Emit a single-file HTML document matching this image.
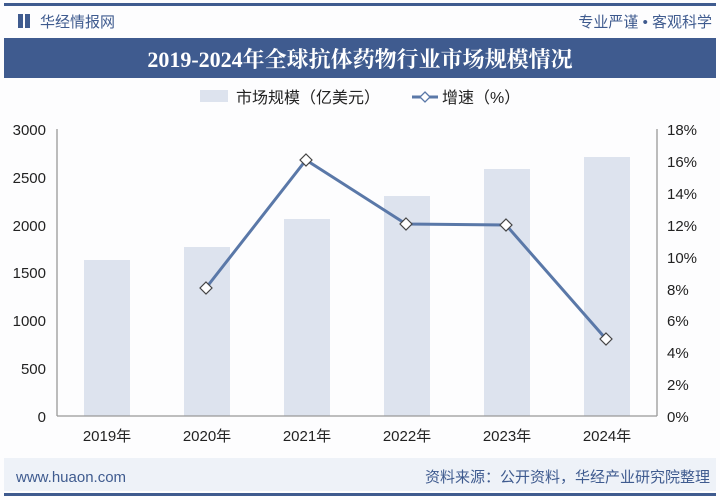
<!DOCTYPE html>
<html><head><meta charset="utf-8"><style>
body{margin:0;background:#fff;}
svg{display:block;font-family:"Liberation Sans","Noto Sans CJK SC",sans-serif;}
</style></head><body>
<svg width="720" height="500" viewBox="0 0 720 500">
<rect width="720" height="500" fill="#fdfdfe"/>
<rect x="4" y="3" width="712" height="3" fill="#3f5b8f"/>
<rect x="18" y="14" width="5" height="14" fill="#3f5b8f"/><rect x="25" y="14" width="5" height="14" fill="#3f5b8f"/>
<text x="40" y="27" font-size="15" fill="#3f5b8f">华经情报网</text>
<text x="712" y="27" font-size="15" fill="#3f5b8f" text-anchor="end">专业严谨 • 客观科学</text>
<rect x="4" y="38" width="712" height="40" fill="#3f5b8f"/>
<text x="360" y="67" font-size="22" font-weight="bold" fill="#fff" text-anchor="middle" font-family="'Liberation Serif','Noto Serif CJK SC',serif">2019-2024年全球抗体药物行业市场规模情况</text>
<rect x="200" y="90" width="28" height="12" fill="#dde3ee"/>
<text x="236" y="103" font-size="16" fill="#222">市场规模（亿美元）</text>
<line x1="412" y1="97" x2="438" y2="97" stroke="#5a78a8" stroke-width="3"/>
<path d="M425 92 L430 97 L425 102 L420 97Z" fill="#fff" stroke="#5a78a8" stroke-width="1.3"/>
<text x="442" y="103" font-size="16" fill="#222">增速（%）</text>
<g fill="#dde3ee">
<rect x="84" y="260" width="46" height="156"/>
<rect x="184" y="247" width="46" height="169"/>
<rect x="284" y="219" width="46" height="197"/>
<rect x="384" y="196" width="46" height="220"/>
<rect x="484" y="169" width="46" height="247"/>
<rect x="584" y="157" width="46" height="259"/>
</g>
<g stroke="#999" stroke-width="1.3">
<line x1="57" y1="129" x2="57" y2="416"/>
<line x1="657" y1="129" x2="657" y2="416"/>
<line x1="57" y1="416" x2="657" y2="416"/>
</g>
<g font-size="15" fill="#222" text-anchor="end">
<text x="46" y="135">3000</text><text x="46" y="183">2500</text><text x="46" y="231">2000</text><text x="46" y="278">1500</text><text x="46" y="326">1000</text><text x="46" y="374">500</text><text x="46" y="422">0</text>
</g>
<g font-size="15" fill="#222">
<text x="667" y="135">18%</text><text x="667" y="167">16%</text><text x="667" y="199">14%</text><text x="667" y="231">12%</text><text x="667" y="263">10%</text><text x="667" y="295">8%</text><text x="667" y="326">6%</text><text x="667" y="358">4%</text><text x="667" y="390">2%</text><text x="667" y="422">0%</text>
</g>
<g font-size="15" fill="#222" text-anchor="middle">
<text x="107" y="441">2019年</text><text x="207" y="441">2020年</text><text x="307" y="441">2021年</text><text x="407" y="441">2022年</text><text x="507" y="441">2023年</text><text x="607" y="441">2024年</text>
</g>
<polyline points="206,288 306,160 406,224 506,225 606,339" fill="none" stroke="#5a78a8" stroke-width="3"/>
<g fill="#fff" stroke="#444" stroke-width="1.2">
<path d="M206 282 L212 288 L206 294 L200 288Z"/>
<path d="M306 154 L312 160 L306 166 L300 160Z"/>
<path d="M406 218 L412 224 L406 230 L400 224Z"/>
<path d="M506 219 L512 225 L506 231 L500 225Z"/>
<path d="M606 333 L612 339 L606 345 L600 339Z"/>
</g>
<rect x="4" y="458" width="712" height="33" fill="#eef2f8"/>
<text x="16" y="482" font-size="15" fill="#3f5b8f">www.huaon.com</text>
<text x="710" y="482" font-size="15" fill="#3f5b8f" text-anchor="end">资料来源：公开资料，华经产业研究院整理</text>
<rect x="4" y="493" width="712" height="3" fill="#3f5b8f"/>
</svg>
</body></html>
